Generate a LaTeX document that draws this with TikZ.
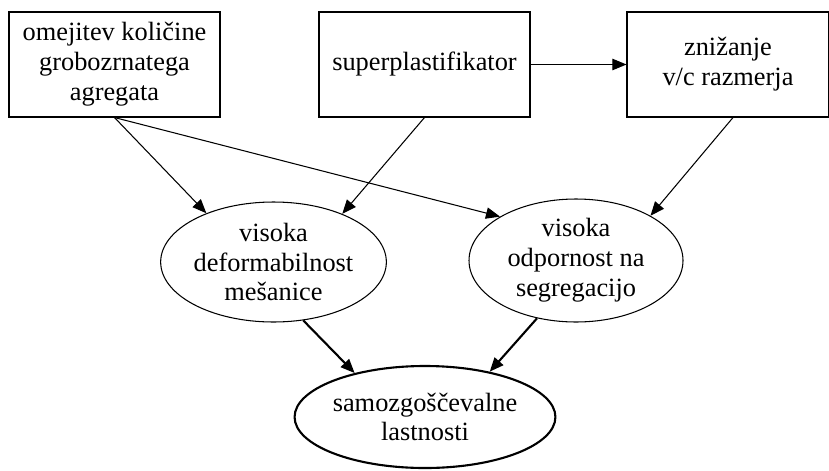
\documentclass[tikz,border=0pt]{standalone}
\usepackage{fontspec}
\setmainfont{Liberation Serif}
\usetikzlibrary{shapes.geometric, arrows.meta}
\tikzstyle{vzrok} = [rectangle, minimum width=4.22cm, minimum height=2.1cm, inner sep=0pt, align=center, draw=black, line width=0.6pt, font=\fontsize{15}{17}\selectfont]
\tikzstyle{lastnost} = [ellipse, inner sep=0pt, align=center, draw=black, line width=0.6pt, font=\fontsize{15}{17}\selectfont]
\tikzstyle{arrow} = [line width=0.6pt, -{Triangle[length=8pt,width=6.5pt]}]
\tikzstyle{thickarrow} = [line width=1.2pt, -{Triangle[length=8pt,width=6.5pt]}]

\begin{document}
\begin{tikzpicture}

\useasboundingbox (0,0) rectangle (16.58,9.4);

\node (omejitev) [vzrok] at (2.29,8.11) {omejitev količine\\grobozrnatega\\agregata};

\node (superpl) [vzrok] at (8.49,8.11) {superplastifikator};

\node (znizanje) [vzrok, minimum width=4.04cm] at (14.56,8.11) {znižanje\\v/c razmerja};

\draw[arrow] (superpl) -- (znizanje);

\node (deform) [lastnost, minimum width=4.26cm, minimum height=2.4cm] at (5.47,4.16) {visoka\\deformabilnost\\mešanice};

\node (odpor) [lastnost, minimum width=4.28cm, minimum height=2.46cm] at (11.52,4.19) {visoka\\odpornost na\\segregacijo};

\node (samozg) [lastnost, line width=1.2pt, minimum width=4.88cm, minimum height=2.04cm] at (8.5,1.06) {samozgoščevalne\\lastnosti};

\draw[arrow] (omejitev.south) -- (deform.144);
\draw[arrow] (omejitev.south) -- (odpor.150);
\draw[arrow] (superpl.south) -- (deform.35);
\draw[arrow] ([xshift=0.1cm]znizanje.south) -- (odpor.31);

\draw[thickarrow] (deform.-63) -- (samozg.148);
\draw[thickarrow] (odpor.-124) -- (samozg.35);

\end{tikzpicture}
\end{document}
